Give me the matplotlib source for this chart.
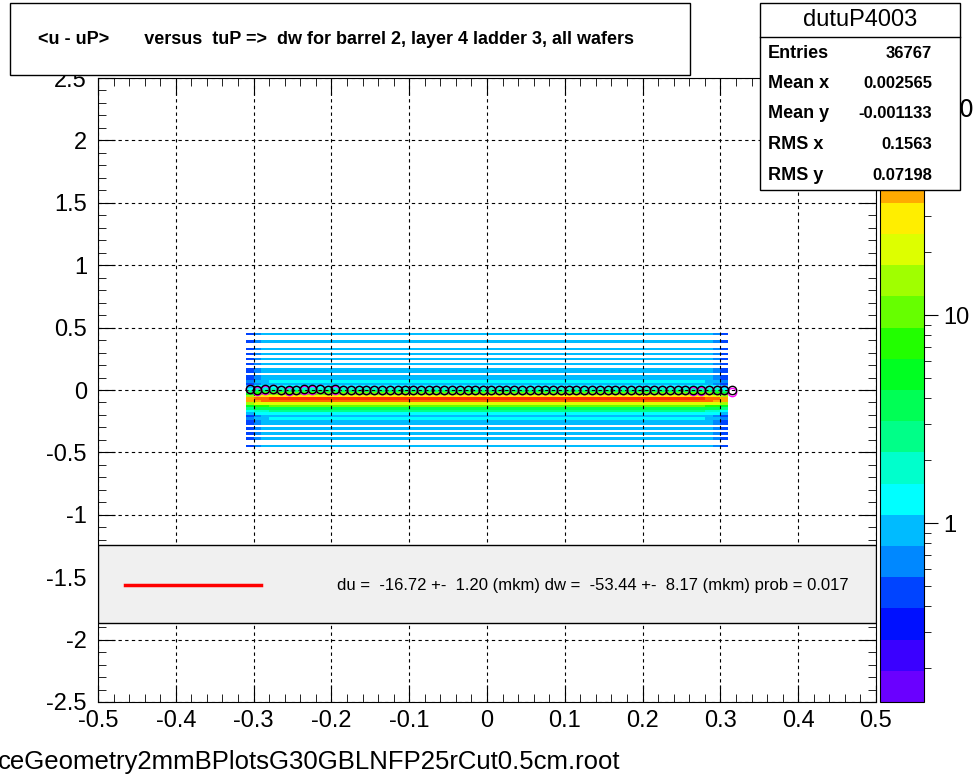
import numpy as np
import matplotlib
matplotlib.use("Agg")
import matplotlib.pyplot as plt
from matplotlib.colors import ListedColormap, BoundaryNorm

plt.rcParams['font.family'] = ['Liberation Sans', 'DejaVu Sans']

# ---- data ----
x_edges = np.round(np.arange(-0.31, 0.3201, 0.01), 3)
y_edges = np.round(np.arange(-0.50, 0.5001, 0.02), 3)
# typical counts per y bin (centre of band is densest)
y_profile = [0.0, 0.0, 0.9, 0.0, 0.0, 0.9, 0.0, 0.9, 0.0, 0.9,
             0.0, 0.9, 0.9, 1.2, 0.9, 1.5, 2.2, 4.0, 9.0, 22.0,
             60.0, 70.0, 28.0, 10.0, 4.0, 2.0, 1.4, 0.9, 1.2, 0.9,
             0.9, 0.0, 0.9, 0.9, 0.0, 0.9, 0.0, 0.9, 0.0, 0.9,
             0.0, 0.9, 0.0, 0.0, 0.9, 0.0, 0.0, 0.9, 0.0, 0.0]
# relative occupancy per x bin
x_profile = [0.6, 0.8, 0.9, 1.0, 1.0, 1.0, 1.0, 1.0, 1.0, 1.0,
             1.0, 1.0, 1.0, 1.0, 1.0, 1.0, 1.0, 1.0, 1.0, 1.0,
             1.0, 1.0, 1.0, 1.0, 1.0, 1.0, 1.0, 1.0, 1.0, 1.0,
             1.0, 1.0, 1.0, 1.0, 1.0, 1.0, 1.0, 1.0, 1.0, 1.0,
             1.0, 1.0, 1.0, 1.0, 1.0, 1.0, 1.0, 1.0, 1.0, 1.0,
             1.0, 1.0, 1.0, 1.0, 1.0, 1.0, 1.0, 1.0, 1.0, 0.9,
             0.8, 0.6, 0.0]
prof_x = [-0.305, -0.295, -0.285, -0.275, -0.265, -0.255, -0.245, -0.235, -0.225, -0.215,
          -0.205, -0.195, -0.185, -0.175, -0.165, -0.155, -0.145, -0.135, -0.125, -0.115,
          -0.105, -0.095, -0.085, -0.075, -0.065, -0.055, -0.045, -0.035, -0.025, -0.015,
          -0.005, 0.005, 0.015, 0.025, 0.035, 0.045, 0.055, 0.065, 0.075, 0.085,
          0.095, 0.105, 0.115, 0.125, 0.135, 0.145, 0.155, 0.165, 0.175, 0.185,
          0.195, 0.205, 0.215, 0.225, 0.235, 0.245, 0.255, 0.265, 0.275, 0.285,
          0.295, 0.305, 0.315]
prof_y = [0.005, 0.0, 0.005, 0.008, 0.002, 0.0, 0.004, 0.006, 0.008, 0.005,
          0.004, 0.006, 0.003, 0.002, 0.004, 0.002, 0.0, 0.002, 0.003, 0.001,
          0.0, 0.0, 0.002, 0.001, 0.0, 0.001, 0.0, 0.0, 0.001, 0.0,
          0.0, 0.0, 0.0, 0.001, 0.0, 0.0, 0.002, 0.0, 0.001, 0.0,
          0.003, 0.002, 0.0, 0.001, 0.0, 0.0, 0.0, 0.0, 0.001, 0.0,
          0.0, 0.0, 0.0, 0.0, 0.0, 0.0, 0.0, 0.0, 0.0, 0.0,
          0.002, 0.0, 0.0]
prof_y2 = [0.01, -0.005, 0.0, 0.01, 0.0, -0.005, 0.0, 0.0, 0.0, 0.005,
           0.0, 0.0, 0.0, 0.0, 0.0, 0.0, 0.0, 0.0, 0.0, 0.0,
           0.0, 0.0, 0.0, 0.0, 0.0, 0.0, 0.0, 0.0, 0.0, 0.0,
           0.0, 0.0, 0.0, 0.0, 0.0, 0.0, 0.0, 0.0, 0.0, 0.0,
           0.0, 0.0, 0.0, 0.0, 0.0, 0.0, 0.0, 0.0, 0.0, 0.0,
           0.0, 0.0, 0.0, 0.0, 0.0, 0.0, 0.0, -0.005, -0.01, 0.0,
           0.0, 0.0, -0.02]

palette = ['#6a00ff', '#3a00ff', '#0010ff', '#0044ff', '#0088ff', '#00bbff',
           '#00ffff', '#00ffcc', '#00ff88', '#00ff55', '#00ff22', '#22ff00',
           '#66ff00', '#a0ff00', '#ddff00', '#ffee00', '#ffaa00', '#ff6600',
           '#ff3300', '#ff0000']

fig = plt.figure(figsize=(9.73, 7.8), dpi=100)
ax = fig.add_axes([98/973, 78/780, 778/973, 624/780])

H = np.outer(np.array(y_profile), np.array(x_profile))
H = np.where(H >= 0.5, H, np.nan)
cmap = ListedColormap(palette)
bounds = np.logspace(np.log10(0.138), np.log10(138), len(palette) + 1)
norm = BoundaryNorm(bounds, len(palette))
mesh = ax.pcolormesh(x_edges, y_edges, H, cmap=cmap, norm=norm)

ax.plot(prof_x, prof_y2, 'o', mfc='none', mec='magenta', ms=6, mew=1)
ax.plot(prof_x, prof_y, 'o', mfc='none', mec='black', ms=6, mew=1)

ax.set_xlim(-0.5, 0.5)
ax.set_ylim(-2.5, 2.5)
ax.set_xticks(np.arange(-0.5, 0.51, 0.1))
ax.set_xticklabels(['-0.5', '-0.4', '-0.3', '-0.2', '-0.1', '0', '0.1', '0.2', '0.3', '0.4', '0.5'])
ax.set_yticks(np.arange(-2.5, 2.51, 0.5))
ax.set_yticklabels(['-2.5', '-2', '-1.5', '-1', '-0.5', '0', '0.5', '1', '1.5', '2', '2.5'])
ax.set_xticks(np.arange(-0.5, 0.51, 0.02), minor=True)
ax.set_yticks(np.arange(-2.5, 2.51, 0.1), minor=True)
ax.tick_params(which='both', direction='in', top=True, right=True, labelsize=17)
ax.tick_params(axis='y', pad=8)
ax.tick_params(axis='x', pad=6)
ax.tick_params(which='major', length=12)
ax.tick_params(which='minor', length=6)
ax.grid(True, which='major', linestyle=(0, (3, 3)), color='black', linewidth=0.8)

# legend box
ax.add_patch(plt.Rectangle((0, 0.126), 1.0, 0.125, transform=ax.transAxes,
                           facecolor='#f0f0f0', edgecolor='black', lw=1, zorder=5))
ax.plot([0.035, 0.21], [0.187, 0.187], transform=ax.transAxes, color='red', lw=2.5, zorder=6)
ax.text(0.965, 0.187, 'du =  -16.72 +-  1.20 (mkm) dw =  -53.44 +-  8.17 (mkm) prob = 0.017',
        transform=ax.transAxes, ha='right', va='center', fontsize=12, zorder=6)

# colorbar
cax = fig.add_axes([880/973, 78/780, 44/973, 624/780])
cb = fig.colorbar(mesh, cax=cax)
cax.set_yscale('log')
cax.set_ylim(0.138, 138)
cax.set_yticks([1, 10, 100])
cax.set_yticklabels(['1', '10', '$10^2$'])
cax.tick_params(labelsize=17, length=10, pad=4)
cax.yaxis.set_minor_locator(matplotlib.ticker.LogLocator(subs=np.arange(2, 10)))
cax.tick_params(which='minor', length=5)

# title box
fig.patches.append(plt.Rectangle((10/973, 1-75/780), 680/973, 72/780, transform=fig.transFigure,
                                 facecolor='white', edgecolor='black', lw=1))
fig.text(38/973, 1-40/780, '<u - uP>       versus  tuP =>  dw for barrel 2, layer 4 ladder 3, all wafers',
         fontsize=13, fontweight='bold', va='center')

# stats box
fig.patches.append(plt.Rectangle((760/973, 1-190/780), 200/973, 187/780, transform=fig.transFigure,
                                 facecolor='white', edgecolor='black', lw=1, zorder=10))
fig.lines.append(plt.Line2D([760/973, 960/973], [1-37/780, 1-37/780], transform=fig.transFigure,
                            color='black', lw=1, zorder=11))
fig.text(860/973, 1-20/780, 'dutuP4003', ha='center', va='center', fontsize=17, zorder=11)
rows = [('Entries', '36767'), ('Mean x', '0.002565'), ('Mean y', '-0.001133'),
        ('RMS x', '0.1563'), ('RMS y', '0.07198')]
for i, (k, v) in enumerate(rows):
    yy = 1 - (53 + i * 30.5) / 780
    fig.text(768/973, yy, k, fontsize=13, fontweight='bold', va='center', zorder=11)
    fig.text(932/973, yy, v, fontsize=12, fontweight='bold', va='center', ha='right', zorder=11)

fig.text(-2/973, 1-762/780, 'ceGeometry2mmBPlotsG30GBLNFP25rCut0.5cm.root', fontsize=18.5, va='center')

fig.savefig('out.png', dpi=100)
